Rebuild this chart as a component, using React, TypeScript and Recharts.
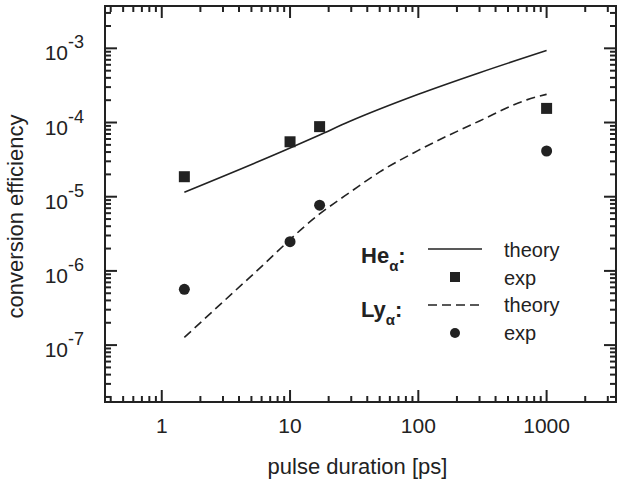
import React from 'react';
import { ComposedChart, Line, XAxis, YAxis } from 'recharts';

// ---- data ----
const heExpX = [1.5, 10, 17, 1000];
const heExpY = [1.86e-5, 5.5e-5, 8.8e-5, 1.55e-4];
const lyExpX = [1.5, 10, 17, 1000];
const lyExpY = [5.65e-7, 2.48e-6, 7.7e-6, 4.13e-5];
const heTheoryX = [1.5, 10, 17, 29, 100, 300, 1000];
const heTheoryY = [1.15e-5, 4.53e-5, 6.8e-5, 1.03e-4, 2.4e-4, 4.69e-4, 9.34e-4];
const lyTheoryX = [1.5, 5, 17, 30, 50, 100, 300, 700, 1000];
const lyTheoryY = [1.27e-7, 8.57e-7, 5.85e-6, 1.18e-5, 2.16e-5, 4.21e-5, 1.05e-4, 2.02e-4, 2.4e-4];

// ---- axes ----
const xDomain = [0.361, 3475];
const yDomain = [1.71e-8, 3.72e-3];
const xMajor = [1, 10, 100, 1000];
const xLabels = ['1', '10', '100', '1000'];
const xMinor = [
  0.4, 0.5, 0.6, 0.7, 0.8, 0.9,
  2, 3, 4, 5, 6, 7, 8, 9,
  20, 30, 40, 50, 60, 70, 80, 90,
  200, 300, 400, 500, 600, 700, 800, 900,
  2000, 3000,
];
const yMajor = [1e-7, 1e-6, 1e-5, 1e-4, 1e-3];
const yExponents = ['-7', '-6', '-5', '-4', '-3'];
const yMinor = [
  2e-8, 3e-8, 4e-8, 5e-8, 6e-8, 7e-8, 8e-8, 9e-8,
  2e-7, 3e-7, 4e-7, 5e-7, 6e-7, 7e-7, 8e-7, 9e-7,
  2e-6, 3e-6, 4e-6, 5e-6, 6e-6, 7e-6, 8e-6, 9e-6,
  2e-5, 3e-5, 4e-5, 5e-5, 6e-5, 7e-5, 8e-5, 9e-5,
  2e-4, 3e-4, 4e-4, 5e-4, 6e-4, 7e-4, 8e-4, 9e-4,
  2e-3, 3e-3,
];
const xTitle = 'pulse duration [ps]';
const yTitle = 'conversion efficiency';

const heTheory = heTheoryX.map((x, i) => ({ x, y: heTheoryY[i] }));
const lyTheory = lyTheoryX.map((x, i) => ({ x, y: lyTheoryY[i] }));
const heExp = heExpX.map((x, i) => ({ x, y: heExpY[i] }));
const lyExp = lyExpX.map((x, i) => ({ x, y: lyExpY[i] }));

// ---- layout / style ----
const W = 617;
const H = 481;
const PLOT_LEFT = 105;
const PLOT_TOP = 6;
const PLOT_RIGHT = 616;
const PLOT_BOTTOM = 402;
const INK = '#222';
const FONT = '"Liberation Sans", Arial, Helvetica, sans-serif';
const MAJOR_LEN = 12;
const MINOR_LEN = 6;

const isMajorX = (v: number) => xMajor.findIndex((m) => Math.abs(v - m) <= m * 1e-9);
const isMajorY = (v: number) => yMajor.findIndex((m) => Math.abs(v - m) <= m * 1e-9);

const XTick = (props: any) => {
  const x = Number(props.x);
  const y = Number(props.y);
  const i = isMajorX(Number(props.payload.value));
  const len = i >= 0 ? MAJOR_LEN : MINOR_LEN;
  return (
    <g>
      <line x1={x} y1={PLOT_BOTTOM} x2={x} y2={PLOT_BOTTOM - len} stroke={INK} strokeWidth={2} />
      <line x1={x} y1={PLOT_TOP} x2={x} y2={PLOT_TOP + len} stroke={INK} strokeWidth={2} />
      <text x={x} y={y + 31} textAnchor="middle" fontSize={21} fill={INK} fontFamily={FONT}>
        {i >= 0 ? xLabels[i] : ''}
      </text>
    </g>
  );
};

const YTick = (props: any) => {
  const x = Number(props.x);
  const y = Number(props.y);
  const i = isMajorY(Number(props.payload.value));
  const len = i >= 0 ? MAJOR_LEN : MINOR_LEN;
  return (
    <g>
      <line x1={PLOT_LEFT} y1={y} x2={PLOT_LEFT + len} y2={y} stroke={INK} strokeWidth={2} />
      <line x1={PLOT_RIGHT} y1={y} x2={PLOT_RIGHT - len} y2={y} stroke={INK} strokeWidth={2} />
      <text x={x - 21} y={y + 12} textAnchor="end" fontSize={21} fill={INK} fontFamily={FONT}>
        {i >= 0 ? '10' : ''}
        <tspan dy={-12} fontSize={18}>
          {i >= 0 ? yExponents[i] : ''}
        </tspan>
      </text>
    </g>
  );
};

const SquareDot = (props: any) => {
  const { cx, cy, index } = props;
  return <rect key={`sq-${index}`} x={cx - 5.5} y={cy - 5.5} width={11} height={11} fill={INK} stroke="none" />;
};
const CircleDot = (props: any) => {
  const { cx, cy, index } = props;
  return <circle key={`ci-${index}`} cx={cx} cy={cy} r={5.5} fill={INK} stroke="none" />;
};

const Overlay = () => (
  <g>
    <rect
      x={PLOT_LEFT}
      y={PLOT_TOP}
      width={PLOT_RIGHT - PLOT_LEFT}
      height={PLOT_BOTTOM - PLOT_TOP}
      fill="none"
      stroke={INK}
      strokeWidth={2}
    />
    <text x={357.5} y={474} textAnchor="middle" fontSize={22} fill={INK} fontFamily={FONT}>
      {xTitle}
    </text>
    <text
      transform="translate(23, 216.5) rotate(-90)"
      textAnchor="middle"
      fontSize={22}
      fill={INK}
      fontFamily={FONT}
    >
      {yTitle}
    </text>
    <text x={361} y={262.7} fontSize={22} fontWeight="bold" fill={INK} fontFamily={FONT}>
      He
      <tspan dy={8} fontSize={15}>α</tspan>
      <tspan dy={-8}>:</tspan>
    </text>
    <line x1={428} y1={249} x2={482} y2={249} stroke={INK} strokeWidth={1.6} />
    <text x={504} y={257} fontSize={20} fill={INK} fontFamily={FONT}>theory</text>
    <rect x={450} y={272} width={10} height={10} fill={INK} />
    <text x={504} y={285} fontSize={20} fill={INK} fontFamily={FONT}>exp</text>
    <text x={361} y={316.7} fontSize={22} fontWeight="bold" fill={INK} fontFamily={FONT}>
      Ly
      <tspan dy={8} fontSize={15}>α</tspan>
      <tspan dy={-8}>:</tspan>
    </text>
    <line x1={428} y1={305} x2={482} y2={305} stroke={INK} strokeWidth={1.6} strokeDasharray="9 5" />
    <text x={504} y={312} fontSize={20} fill={INK} fontFamily={FONT}>theory</text>
    <circle cx={455} cy={333} r={5} fill={INK} />
    <text x={504} y={340} fontSize={20} fill={INK} fontFamily={FONT}>exp</text>
  </g>
);

export default function App() {
  return (
    <div style={{ position: 'absolute', left: 0, top: 0, width: W, height: H, background: '#fff' }}>
      <ComposedChart
        width={W}
        height={H}
        margin={{ top: PLOT_TOP, right: W - PLOT_RIGHT, bottom: 0, left: 0 }}
      >
        <XAxis
          dataKey="x"
          type="number"
          scale="log"
          domain={xDomain}
          allowDataOverflow
          ticks={[...xMajor, ...xMinor]}
          interval={0}
          tick={XTick}
          tickLine={false}
          axisLine={false}
          tickSize={0}
          tickMargin={0}
          height={H - PLOT_BOTTOM}
        />
        <YAxis
          dataKey="y"
          type="number"
          scale="log"
          domain={yDomain}
          allowDataOverflow
          ticks={[...yMajor, ...yMinor]}
          interval={0}
          tick={YTick}
          tickLine={false}
          axisLine={false}
          tickSize={0}
          tickMargin={0}
          width={PLOT_LEFT}
          label={Overlay}
        />
        <Line data={heTheory} dataKey="y" type="monotone" dot={false} stroke={INK} strokeWidth={1.6} isAnimationActive={false} />
        <Line data={lyTheory} dataKey="y" type="monotone" dot={false} stroke={INK} strokeWidth={1.6} strokeDasharray="9 5" isAnimationActive={false} />
        <Line data={heExp} dataKey="y" stroke="none" dot={SquareDot} activeDot={false} isAnimationActive={false} />
        <Line data={lyExp} dataKey="y" stroke="none" dot={CircleDot} activeDot={false} isAnimationActive={false} />
      </ComposedChart>
    </div>
  );
}
